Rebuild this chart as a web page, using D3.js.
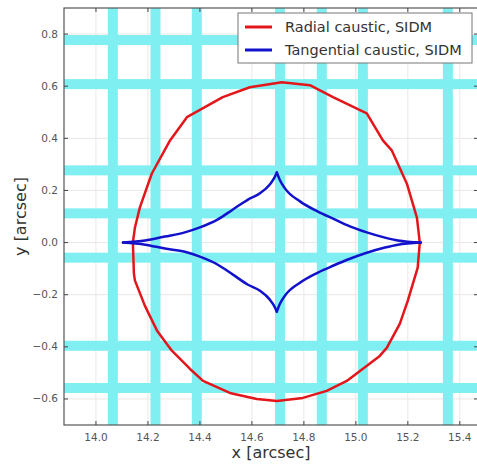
<!DOCTYPE html>
<html>
<head>
<meta charset="utf-8">
<script src="https://cdn.jsdelivr.net/npm/d3@7"></script>
<style>
  body { margin: 0; background: #fff; }
  text { font-family: 'DejaVu Sans', sans-serif; }
</style>
</head>
<body>
<div id="chart"></div>
<script>
// caustic curves, [x, y] in arcsec
const radialCaustic = [
  [14.142, 0.0], [14.150, 0.058], [14.169, 0.135], [14.215, 0.265], [14.285, 0.392],
  [14.350, 0.481], [14.488, 0.558], [14.592, 0.596], [14.715, 0.615], [14.823, 0.604],
  [14.912, 0.558], [15.042, 0.496], [15.104, 0.392], [15.138, 0.354], [15.196, 0.227],
  [15.235, 0.096], [15.246, 0.0], [15.238, -0.096], [15.208, -0.196], [15.200, -0.223],
  [15.169, -0.312], [15.119, -0.404], [15.092, -0.435], [14.965, -0.531], [14.888, -0.569],
  [14.796, -0.596], [14.696, -0.608], [14.619, -0.600], [14.515, -0.577], [14.412, -0.531],
  [14.362, -0.485], [14.292, -0.415], [14.235, -0.338], [14.188, -0.242], [14.150, -0.146],
  [14.146, -0.119], [14.142, 0.0]
]
// tangential caustic, one array per branch between cusps
const tangentialUpperLeft = [
  [14.104, 0.0], [14.189, 0.008], [14.265, 0.023], [14.342, 0.039], [14.400, 0.058],
  [14.469, 0.089], [14.527, 0.127], [14.585, 0.165], [14.631, 0.189], [14.669, 0.223],
  [14.685, 0.246], [14.696, 0.269]
]
const tangentialUpperRight = [
  [14.696, 0.269], [14.708, 0.239], [14.727, 0.208], [14.785, 0.158], [14.854, 0.119],
  [14.912, 0.092], [14.977, 0.062], [15.042, 0.039], [15.112, 0.019], [15.162, 0.008],
  [15.250, 0.0]
]
const tangentialLowerRight = [
  [14.696, -0.265], [14.708, -0.235], [14.727, -0.204], [14.785, -0.154], [14.854, -0.115],
  [14.912, -0.089], [14.977, -0.062], [15.042, -0.039], [15.112, -0.019], [15.162, -0.008],
  [15.250, 0.0]
]
const tangentialLowerLeft = [
  [14.104, 0.0], [14.189, -0.008], [14.265, -0.023], [14.342, -0.035], [14.400, -0.054],
  [14.469, -0.085], [14.527, -0.123], [14.585, -0.162], [14.631, -0.185], [14.669, -0.219],
  [14.685, -0.242], [14.696, -0.265]
]
// cyan stripes (image background)
const stripeX = [14.065, 14.229, 14.388, 14.708, 14.869, 15.027, 15.354]
const stripeY = [0.777, 0.608, 0.277, 0.112, -0.058, -0.396, -0.558]
const xTicks = [14.0, 14.2, 14.4, 14.6, 14.8, 15.0, 15.2, 15.4]
const yTicks = [-0.6, -0.4, -0.2, 0.0, 0.2, 0.4, 0.6, 0.8]
const seriesNames = ['Radial caustic, SIDM', 'Tangential caustic, SIDM']
const seriesColors = ['#e3161b', '#1212cc']

const chartWidth = 477
const chartHeight = 464
const plotLeft = 64, plotTop = 8, plotRight = 478, plotBottom = 425
const stripeW = 10

const svg = d3.select('#chart').append('svg')
  .attr('width', chartWidth)
  .attr('height', chartHeight)

const scaleX = d3.scaleLinear().domain([13.877, 15.47]).range([plotLeft, plotRight])
const scaleY = d3.scaleLinear().domain([-0.7, 0.9]).range([plotBottom, plotTop])

svg.append('clipPath').attr('id', 'plot-clip')
  .append('rect')
  .attr('x', plotLeft).attr('y', plotTop)
  .attr('width', plotRight - plotLeft).attr('height', plotBottom - plotTop)

const plot = svg.append('g').attr('clip-path', 'url(#plot-clip)')

// faint grid at ticks
plot.selectAll('.gx').data(xTicks).enter().append('line')
  .attr('x1', d => scaleX(d)).attr('x2', d => scaleX(d))
  .attr('y1', plotTop).attr('y2', plotBottom)
  .attr('stroke', '#ece6e6').attr('stroke-width', 1)
plot.selectAll('.gy').data(yTicks).enter().append('line')
  .attr('y1', d => scaleY(d)).attr('y2', d => scaleY(d))
  .attr('x1', plotLeft).attr('x2', plotRight)
  .attr('stroke', '#ece6e6').attr('stroke-width', 1)

// stripes
plot.selectAll('.sx').data(stripeX).enter().append('rect')
  .attr('x', d => scaleX(d) - stripeW / 2).attr('y', plotTop)
  .attr('width', stripeW).attr('height', plotBottom - plotTop)
  .attr('fill', '#80eff2')
plot.selectAll('.sy').data(stripeY).enter().append('rect')
  .attr('y', d => scaleY(d) - stripeW / 2).attr('x', plotLeft)
  .attr('height', stripeW).attr('width', plotRight - plotLeft)
  .attr('fill', '#80eff2')

const line = d3.line().x(d => scaleX(d[0])).y(d => scaleY(d[1]))

plot.append('path').datum(radialCaustic)
  .attr('d', line)
  .attr('fill', 'none').attr('stroke', seriesColors[0]).attr('stroke-width', 2.5)
  .attr('stroke-linejoin', 'round')

const branchLine = d3.line().x(d => scaleX(d[0])).y(d => scaleY(d[1])).curve(d3.curveMonotoneX)
plot.selectAll('.tangential')
  .data([tangentialUpperLeft, tangentialUpperRight, tangentialLowerRight, tangentialLowerLeft])
  .enter().append('path')
  .attr('d', branchLine)
  .attr('fill', 'none').attr('stroke', seriesColors[1]).attr('stroke-width', 2.5)
  .attr('stroke-linecap', 'round')

// axes (ticks inside, on all four sides)
const tickColor = '#444'
const axes = svg.append('g')
axes.append('rect')
  .attr('x', plotLeft).attr('y', plotTop)
  .attr('width', plotRight - plotLeft).attr('height', plotBottom - plotTop)
  .attr('fill', 'none').attr('stroke', '#555').attr('stroke-width', 1.2)

xTicks.forEach(t => {
  const x = scaleX(t)
  axes.append('line').attr('x1', x).attr('x2', x).attr('y1', plotBottom).attr('y2', plotBottom - 4)
    .attr('stroke', tickColor)
  axes.append('line').attr('x1', x).attr('x2', x).attr('y1', plotTop).attr('y2', plotTop + 4)
    .attr('stroke', tickColor)
  axes.append('text').attr('x', x).attr('y', plotBottom + 16)
    .attr('text-anchor', 'middle').attr('font-size', 10.5).attr('fill', '#555')
    .text(d3.format('.1f')(t))
})
yTicks.forEach(t => {
  const y = scaleY(t)
  axes.append('line').attr('x1', plotLeft).attr('x2', plotLeft + 4).attr('y1', y).attr('y2', y)
    .attr('stroke', tickColor)
  axes.append('line').attr('x1', plotRight).attr('x2', plotRight - 4).attr('y1', y).attr('y2', y)
    .attr('stroke', tickColor)
  axes.append('text').attr('x', plotLeft - 6).attr('y', y + 3.5)
    .attr('text-anchor', 'end').attr('font-size', 10.5).attr('fill', '#555')
    .text(d3.format('.1f')(t))
})

svg.append('text')
  .attr('x', (plotLeft + plotRight) / 2).attr('y', 458)
  .attr('text-anchor', 'middle').attr('font-size', 16).attr('fill', '#333')
  .text('x [arcsec]')
svg.append('text')
  .attr('transform', 'translate(26,' + (plotTop + plotBottom) / 2 + ') rotate(-90)')
  .attr('text-anchor', 'middle').attr('font-size', 16).attr('fill', '#333')
  .text('y [arcsec]')

// legend
const legend = svg.append('g')
legend.append('rect')
  .attr('x', 238).attr('y', 13).attr('width', 234).attr('height', 50)
  .attr('fill', '#fff').attr('stroke', '#777').attr('stroke-width', 1)
seriesNames.forEach((name, i) => {
  const y = 27 + i * 23
  legend.append('line').attr('x1', 245).attr('x2', 272).attr('y1', y).attr('y2', y)
    .attr('stroke', seriesColors[i]).attr('stroke-width', 3)
  legend.append('text').attr('x', 285).attr('y', y + 5)
    .attr('font-size', 14.5).attr('fill', '#333')
    .text(name)
})
</script>
</body>
</html>
